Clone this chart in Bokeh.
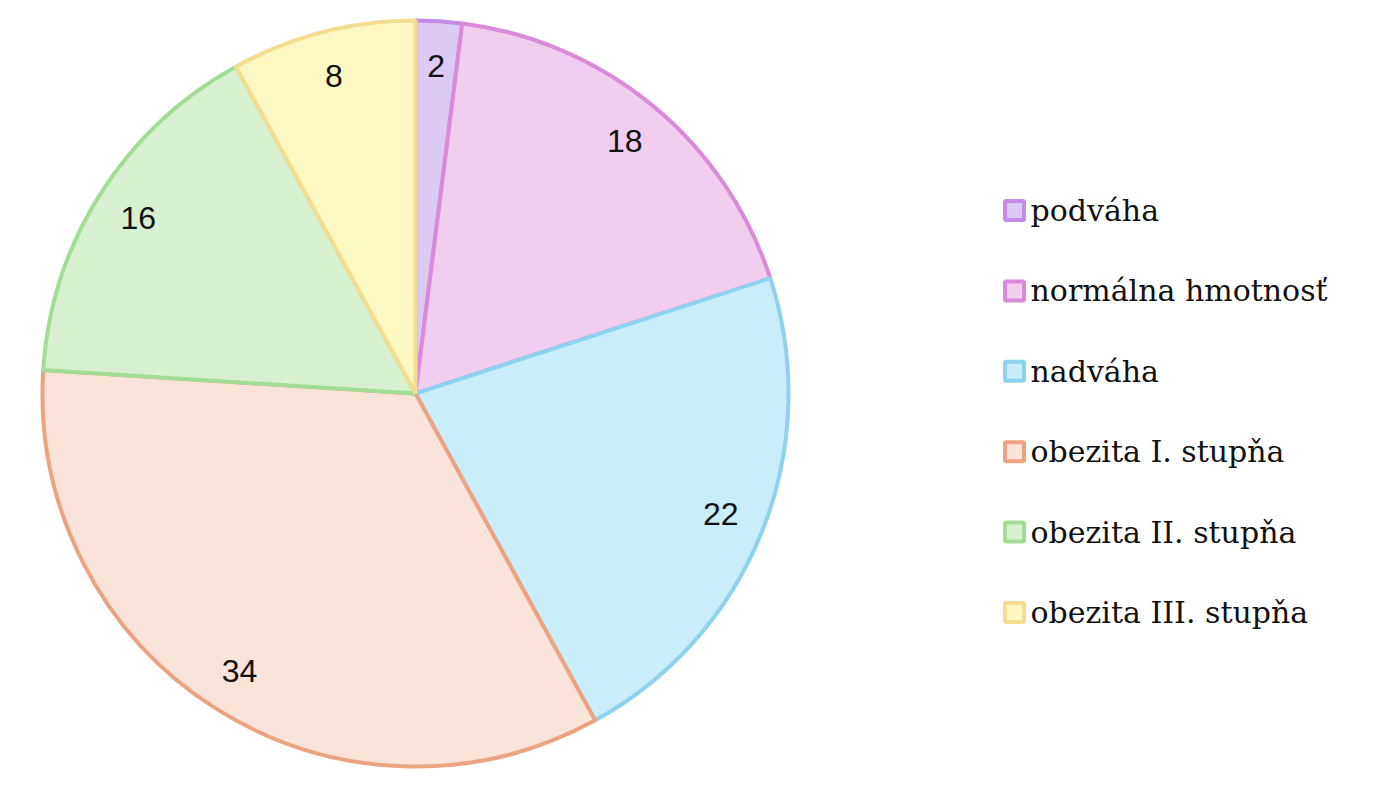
import math
from bokeh.plotting import figure
from bokeh.models import Range1d, ColumnDataSource
from bokeh.core.properties import value
from bokeh.embed import file_html
from bokeh.resources import INLINE

categories = ["podváha", "normálna hmotnosť", "nadváha", "obezita I. stupňa",
              "obezita II. stupňa", "obezita III. stupňa"]
values = [2, 18, 22, 34, 16, 8]
line_colors = ["#c48be8", "#d98ad8", "#8ed2ef", "#eca381", "#a2dd95", "#f4dc90"]
fill_colors = ["#dccaf5", "#f1cdef", "#c9edfb", "#fae3d9", "#d7f1d0", "#fdf8c2"]

W, H = 1358, 784
p = figure(width=W, height=H, output_backend="svg", toolbar_location=None,
           x_range=Range1d(0, W), y_range=Range1d(800 - H, 800),
           min_border=0)
p.axis.visible = False
p.grid.visible = False
p.outline_line_color = None

cx, cy, R = 415, 800 - 393, 373
total = sum(values)
starts, ends, lx, ly = [], [], [], []
c = 0.0
for v in values:
    c0 = c / total
    c += v
    c1 = c / total
    a0 = math.pi / 2 - 2 * math.pi * c0
    a1 = math.pi / 2 - 2 * math.pi * c1
    starts.append(a0)
    ends.append(a1)
    am = (a0 + a1) / 2
    lx.append(cx + 0.88 * R * math.cos(am))
    ly.append(cy + 0.88 * R * math.sin(am))

src = ColumnDataSource(dict(start=starts, end=ends, lc=line_colors, fc=fill_colors,
                            lx=lx, ly=ly, lab=[str(v) for v in values]))
p.wedge(x=cx, y=cy, radius=R, start_angle="start", end_angle="end", direction="clock",
        fill_color="fc", line_color="lc", line_width=4, source=src)
p.text(x="lx", y="ly", text="lab", source=src, text_align="center", text_baseline="middle",
       text_font=value("Liberation Sans"), text_font_size="32px", text_color="#111111")

# legend
leg_y = [800 - (210 + i * 80.4) for i in range(len(categories))]
lsrc = ColumnDataSource(dict(x=[1014] * len(categories), y=leg_y, lc=line_colors,
                             fc=fill_colors, t=categories, tx=[1030] * len(categories)))
p.scatter(x="x", y="y", marker="square", size=19, fill_color="fc", line_color="lc",
          line_width=4, source=lsrc)
p.text(x="tx", y="y", text="t", source=lsrc, text_baseline="middle",
       text_font=value("DejaVu Serif"), text_font_size="30px", text_color="#111111")

open("out.html", "w").write(file_html(p, INLINE))
